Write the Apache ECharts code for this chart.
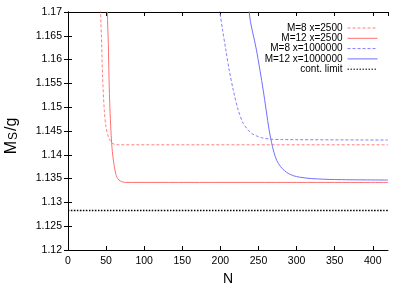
<!DOCTYPE html>
<html><head><meta charset="utf-8">
<script src="https://cdn.jsdelivr.net/npm/echarts@6/dist/echarts.min.js"></script>
<style>html,body{margin:0;padding:0;background:#fff}#c{width:403px;height:283px}</style>
</head><body><div id="c"></div>
<script>
// Data: [N, M_S/g]
var m8x2500 = [[41.5,1.18],[42.8,1.17],[44.1,1.1634],[45.4,1.1564],[47.6,1.1494],[49.8,1.1459],[52.9,1.1438],[55,1.1431],[57.3,1.1425],[61,1.1422],[66,1.1421],[420,1.1421]];
var m12x2500 = [[50.8,1.18],[51.6,1.17],[52.9,1.1634],[53.8,1.1564],[55.1,1.1494],[57.3,1.1424],[59.5,1.1389],[62.5,1.1361],[64.5,1.1352],[66.9,1.1347],[70,1.1344],[75,1.1342],[420,1.1342]];
var m8x1e6 = [[190.5,1.18],[199.3,1.17],[202.9,1.1662],[207.2,1.162],[211.6,1.1578],[216.9,1.1536],[223.4,1.1494],[230,1.1466],[236,1.1453],[241,1.1445],[247,1.1440],[254,1.1436],[265,1.1433],[280,1.1432],[420,1.1431]];
var m12x1e6 = [[236.6,1.18],[237.8,1.17],[247.4,1.162],[256.2,1.1536],[264,1.1452],[268.4,1.1417],[270.5,1.1404],[274,1.1388],[279,1.1375],[284,1.1367],[289,1.1361],[296,1.1356],[304,1.1353],[320,1.1350],[350,1.1348],[420,1.1347]];
var contLimit = [[0,1.1283],[420,1.1283]];
var seriesNames = ['M=8 x=2500','M=12 x=2500','M=8 x=1000000','M=12 x=1000000','cont. limit'];

var chart = echarts.init(document.getElementById('c'));
var font = 'Liberation Sans, Arial, sans-serif';
function fmtY(v){ return parseFloat(v.toFixed(3)).toString(); }
var axisCommon = {
  axisLine:{show:true,lineStyle:{color:'#000',width:1}},
  axisTick:{show:true,inside:true,length:4,lineStyle:{color:'#000'}},
  splitLine:{show:false}
};
function mk(name,data,color,type,width){
  return {name:name,type:'line',data:data,showSymbol:false,symbol:'none',
    smooth:0.3,clip:true,
    lineStyle:{color:color,type:type,width:width},itemStyle:{color:color}};
}
chart.setOption({
  animation:false,
  textStyle:{fontFamily:font},
  grid:{left:68,right:15,top:12,bottom:33,outerBoundsMode:'none',containLabel:false},
  legend:{orient:'vertical',right:20,top:18,align:'right',itemWidth:30,itemHeight:12,itemGap:0.3,
    itemStyle:{opacity:0},lineStyle:{width:1},
    textStyle:{fontSize:10,color:'#000',fontFamily:font},data:seriesNames},
  xAxis:[
    Object.assign({type:'value',min:0,max:420,interval:50,name:'N',nameLocation:'middle',nameGap:17,
      nameTextStyle:{fontSize:14,color:'#000',fontFamily:font},
      axisLabel:{fontSize:10.5,color:'#000',margin:6,fontFamily:font,showMaxLabel:false}},axisCommon),
    Object.assign({type:'value',position:'top',min:0,max:420,interval:50,axisLabel:{show:false}},axisCommon)
  ],
  yAxis:[
    Object.assign({type:'value',min:1.12,max:1.17,interval:0.005,
      name:'M{s|S}/g',nameLocation:'middle',nameRotate:90,nameGap:48,
      nameTextStyle:{fontSize:16,color:'#000',fontFamily:font,padding:[0,10,0,0],
        rich:{s:{fontSize:12,verticalAlign:'bottom',padding:[5,1,0,1],color:'#000',fontFamily:font}}},
      axisLabel:{fontSize:10.5,color:'#000',margin:6,fontFamily:font,formatter:fmtY}},axisCommon),
    Object.assign({type:'value',position:'right',min:1.12,max:1.17,interval:0.005,axisLabel:{show:false}},axisCommon)
  ],
  series:[
    mk(seriesNames[0],m8x2500,'#ff8080',[3,2],1),
    mk(seriesNames[1],m12x2500,'#ff7070','solid',1),
    mk(seriesNames[2],m8x1e6,'#7f7fff',[3,2],1),
    mk(seriesNames[3],m12x1e6,'#7070ff','solid',1),
    mk(seriesNames[4],contLimit,'#000',[1.5,1.5],1.5)
  ]
});
</script></body></html>
